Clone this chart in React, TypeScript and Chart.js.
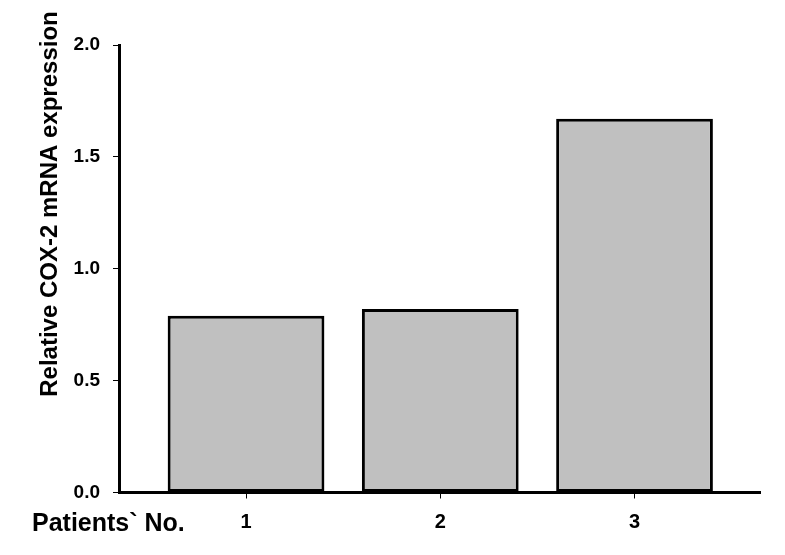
import React, { useEffect, useRef } from "react";
import { Chart, registerables } from "chart.js";

Chart.register(...registerables);

const patients = [1, 2, 3];
const patientLabels = ["1", "2", "3"];
const expression = [0.79, 0.82, 1.67];
const yTicks = [0, 0.5, 1.0, 1.5, 2.0];
const yTitle = "Relative COX-2 mRNA expression";
const xTitle = "Patients` No.";

const FONT = "'Liberation Sans', Arial, sans-serif";

const titlesPlugin = {
  id: "customTitles",
  afterDraw(chart: any) {
    const ctx = chart.ctx;
    ctx.save();
    ctx.fillStyle = "#000";
    ctx.font = `bold 24px ${FONT}`;
    ctx.textAlign = "center";
    ctx.textBaseline = "alphabetic";
    ctx.translate(57, 204);
    ctx.rotate(-Math.PI / 2);
    ctx.fillText(yTitle, 0, 0);
    ctx.restore();

    ctx.save();
    ctx.fillStyle = "#000";
    ctx.font = `bold 25px ${FONT}`;
    ctx.textAlign = "left";
    ctx.textBaseline = "alphabetic";
    ctx.fillText(xTitle, 32, 531);
    ctx.restore();
  },
};

export default function App() {
  const ref = useRef<HTMLCanvasElement | null>(null);
  useEffect(() => {
    if (!ref.current) return;
    const chart = new Chart(ref.current, {
      type: "bar",
      data: {
        datasets: [
          {
            data: patients.map((p, i) => ({ x: p, y: expression[i] })),
            backgroundColor: "#c0c0c0",
            borderColor: "#000",
            borderWidth: 3,
            borderSkipped: false,
            barPercentage: 0.807,
            categoryPercentage: 1,
          },
        ],
      },
      options: {
        responsive: false,
        animation: false,
        events: [],
        layout: { padding: { left: 0, right: 25, top: 45, bottom: 0 } },
        plugins: { legend: { display: false }, tooltip: { enabled: false }, title: { display: false } },
        scales: {
          x: {
            type: "linear",
            min: 0.346,
            max: 3.646,
            offset: false,
            afterFit: (s: any) => {
              s.height = 62.5;
            },
            afterBuildTicks: (s: any) => {
              s.ticks = patients.map((v) => ({ value: v }));
            },
            ticks: {
              color: "#000",
              font: { family: FONT, size: 20, weight: "bold" },
              padding: 12,
              maxRotation: 0,
              autoSkip: false,
              callback: (v: any) => {
                const i = patients.indexOf(Number(v));
                return i >= 0 ? patientLabels[i] : "";
              },
            },
            grid: {
              offset: false,
              drawOnChartArea: false,
              drawTicks: true,
              tickLength: 6,
              tickWidth: 1,
              tickColor: "#000",
            },
            border: { display: true, color: "#000", width: 3 },
          },
          y: {
            type: "linear",
            min: 0,
            max: 2,
            afterFit: (s: any) => {
              s.width = 119;
            },
            afterBuildTicks: (s: any) => {
              s.ticks = yTicks.map((v) => ({ value: v }));
            },
            ticks: {
              color: "#000",
              font: { family: FONT, size: 19, weight: "bold" },
              padding: 13,
              callback: (v: any) => Number(v).toFixed(1),
            },
            grid: {
              drawOnChartArea: false,
              drawTicks: true,
              tickLength: 6,
              tickWidth: 1,
              tickColor: "#000",
            },
            border: { display: true, color: "#000", width: 3 },
          },
        },
      },
      plugins: [titlesPlugin],
    });
    return () => chart.destroy();
  }, []);
  return (
    <div style={{ position: "absolute", left: 0, top: 0, width: 785, height: 555, background: "#fff" }}>
      <canvas ref={ref} width={785} height={555} />
    </div>
  );
}
